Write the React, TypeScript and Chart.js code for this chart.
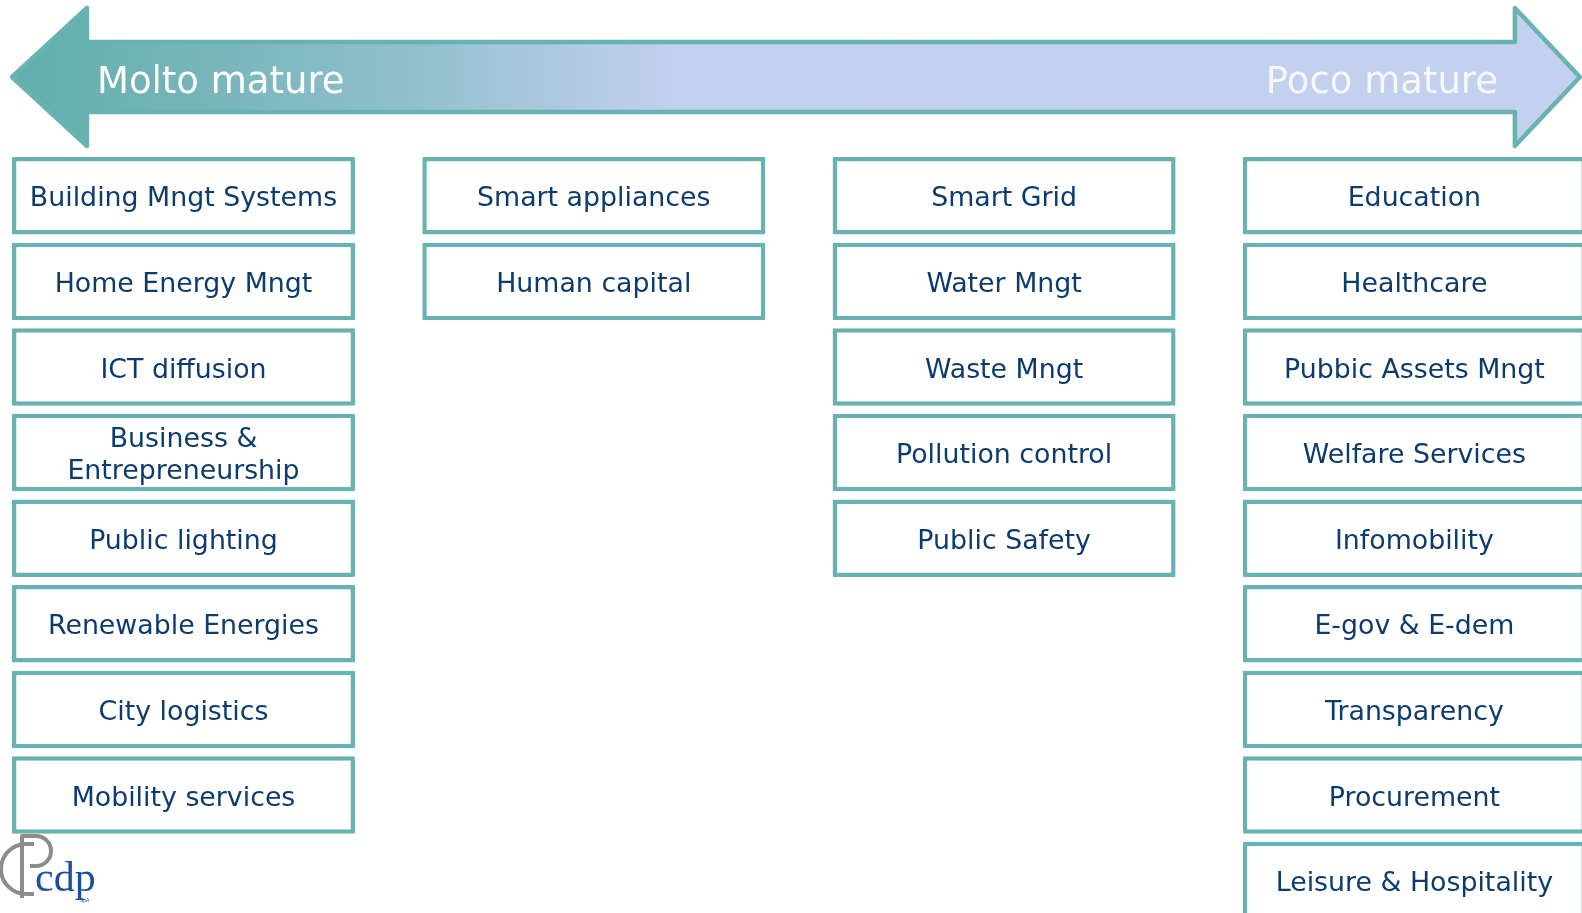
import React, { useEffect, useRef } from "react";
import { Chart, registerables } from "chart.js";

Chart.register(...registerables);

// ---- data ----
const rows = ["r1", "r2", "r3", "r4", "r5", "r6", "r7", "r8", "r9"];
const maturityLevels = [0, 1, 2, 3]; // 0 = molto mature ... 3 = poco mature
const headerLeft = "Molto mature";
const headerRight = "Poco mature";
const level0Items = [
  "Building Mngt Systems",
  "Home Energy Mngt",
  "ICT diffusion",
  "Business &\nEntrepreneurship",
  "Public lighting",
  "Renewable Energies",
  "City logistics",
  "Mobility services",
];
const level1Items = ["Smart appliances", "Human capital"];
const level2Items = ["Smart Grid", "Water Mngt", "Waste Mngt", "Pollution control", "Public Safety"];
const level3Items = [
  "Education",
  "Healthcare",
  "Pubbic Assets Mngt",
  "Welfare Services",
  "Infomobility",
  "E-gov & E-dem",
  "Transparency",
  "Procurement",
  "Leisure & Hospitality",
];
const columns = [level0Items, level1Items, level2Items, level3Items];

const HALF = 0.418;
const TEAL = "#68b2b2";
const TEXT = "#0c3b6e";

const boxLabels: any = {
  id: "boxLabels",
  afterDatasetsDraw(chart: any) {
    const ctx = chart.ctx;
    ctx.save();
    ctx.font = '26.8px "DejaVu Sans"';
    ctx.fillStyle = TEXT;
    ctx.textAlign = "center";
    ctx.textBaseline = "alphabetic";
    chart.data.datasets.forEach((ds: any, di: number) => {
      const meta = chart.getDatasetMeta(di);
      meta.data.forEach((el: any, i: number) => {
        const txt: string = ds.labels[i];
        const lines = txt.split("\n");
        const cx = (el.x + el.base) / 2;
        const cy = el.y;
        lines.forEach((ln, k) => {
          const off = (k - (lines.length - 1) / 2) * 32;
          ctx.fillText(ln, cx, cy + 10.5 + off);
        });
      });
    });
    ctx.restore();
  },
};

const header: any = {
  id: "header",
  afterDraw(chart: any) {
    const ctx = chart.ctx;
    const xs = chart.scales.x;
    const L = xs.getPixelForValue(maturityLevels[0] - HALF);
    const R = xs.getPixelForValue(maturityLevels[3] + HALF) - 6;
    const hb1 = L + 75;
    const hb2 = R - 65;
    const top = 8, sTop = 42, mid = 77, sBot = 112, bot = 146;
    ctx.save();
    const g = ctx.createLinearGradient(L, 0, R, 0);
    g.addColorStop(0, "#62adad");
    g.addColorStop(0.1, "#72b4b8");
    g.addColorStop(0.247, "#8fbfcb");
    g.addColorStop(0.33, "#a9c7dc");
    g.addColorStop(0.42, "#c1d0ec");
    g.addColorStop(1, "#c3d1ee");
    ctx.beginPath();
    ctx.moveTo(L, mid);
    ctx.lineTo(hb1, top);
    ctx.lineTo(hb1, sTop);
    ctx.lineTo(hb2, sTop);
    ctx.lineTo(hb2, top);
    ctx.lineTo(R, mid);
    ctx.lineTo(hb2, bot);
    ctx.lineTo(hb2, sBot);
    ctx.lineTo(hb1, sBot);
    ctx.lineTo(hb1, bot);
    ctx.closePath();
    ctx.fillStyle = g;
    ctx.fill();
    ctx.lineWidth = 4.5;
    ctx.lineJoin = "round";
    ctx.strokeStyle = TEAL;
    ctx.stroke();

    ctx.font = '37px "DejaVu Sans"';
    ctx.fillStyle = "#ffffff";
    ctx.textBaseline = "alphabetic";
    ctx.textAlign = "left";
    ctx.fillText(headerLeft, 97, 93);
    ctx.textAlign = "right";
    ctx.fillStyle = "#f6f8fd";
    ctx.fillText(headerRight, 1498, 93);

    // logo
    ctx.strokeStyle = "#8c8c8c";
    ctx.lineWidth = 4;
    ctx.beginPath();
    ctx.arc(26, 869, 25, Math.PI * 0.5, Math.PI * 1.5, false);
    ctx.lineTo(34, 844);
    ctx.stroke();
    ctx.beginPath();
    ctx.moveTo(26, 894);
    ctx.lineTo(34, 894);
    ctx.stroke();
    ctx.beginPath();
    ctx.moveTo(22, 898);
    ctx.lineTo(22, 836);
    ctx.lineTo(36, 836);
    ctx.arc(36, 851, 15, -Math.PI / 2, Math.PI / 2, false);
    ctx.lineTo(30, 866);
    ctx.stroke();
    ctx.font = '42px "Liberation Serif"';
    ctx.fillStyle = "#1d4f9c";
    ctx.textAlign = "left";
    ctx.fillText("cdp", 35, 891);
    ctx.font = '5px "Liberation Sans"';
    ctx.fillText("SpA", 80, 902);
    ctx.restore();
  },
};

export default function App() {
  const ref = useRef<HTMLCanvasElement>(null);
  useEffect(() => {
    document.body.style.margin = "0";
    const datasets = columns.map((items, c) => ({
      label: "level" + maturityLevels[c],
      labels: items,
      data: items.map((_, i) => ({
        x: [maturityLevels[c] - HALF, maturityLevels[c] + HALF],
        y: rows[i],
      })),
      backgroundColor: "#ffffff",
      borderColor: TEAL,
      borderWidth: 4.5,
      borderSkipped: false,
      borderRadius: 1,
      grouped: false,
      barPercentage: 0.905,
      categoryPercentage: 1,
    }));
    const chart = new Chart(ref.current!, {
      type: "bar",
      data: { labels: rows, datasets: datasets as any },
      options: {
        indexAxis: "y",
        animation: false,
        responsive: false,
        layout: { padding: { top: 153, bottom: 76.6, left: 0, right: 0 } },
        plugins: { legend: { display: false }, tooltip: { enabled: false } },
        scales: {
          x: { type: "linear", min: -0.4472, max: 3.6961, display: false },
          y: { type: "category", display: false },
        },
      },
      plugins: [boxLabels, header],
    });
    return () => chart.destroy();
  }, []);
  return (
    <div style={{ position: "fixed", left: 0, top: 0, width: 1582, height: 913, overflow: "hidden", background: "#fff" }}>
      <canvas ref={ref} width={1700} height={1000} style={{ display: "block" }} />
    </div>
  );
}
